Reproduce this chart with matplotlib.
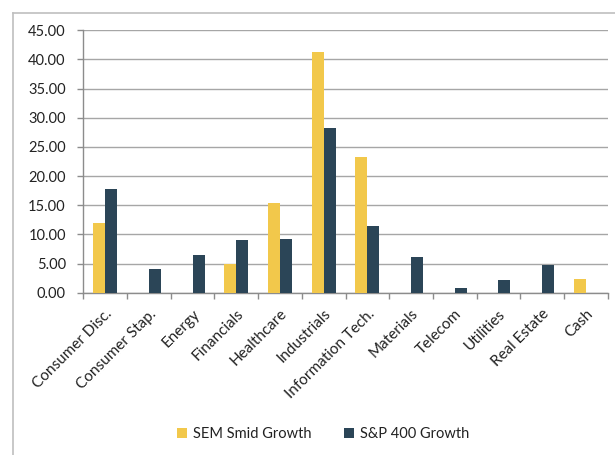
import matplotlib
matplotlib.use("Agg")
import matplotlib.pyplot as plt
import numpy as np
from matplotlib.lines import Line2D

categories = ["Consumer Disc.", "Consumer Stap.", "Energy", "Financials", "Healthcare",
              "Industrials", "Information Tech.", "Materials", "Telecom", "Utilities",
              "Real Estate", "Cash"]
sem_smid = [12.0, 0, 0, 5.0, 15.3, 41.2, 23.3, 0, 0, 0, 0, 2.35]
sp400 = [17.7, 4.0, 6.4, 9.0, 9.2, 28.2, 11.4, 6.1, 0.85, 2.1, 4.7, 0]
series_names = ["SEM Smid Growth", "S&P 400 Growth"]
yticks = [0, 5, 10, 15, 20, 25, 30, 35, 40, 45]

plt.rcParams['font.family'] = ['Lato', 'DejaVu Sans']

W, H = 615, 455
fig = plt.figure(figsize=(W / 100, H / 100), dpi=100)
ax = fig.add_axes([83.3 / W, 1 - 292.7 / H, (607.7 - 83.3) / W, (292.7 - 30.3) / H])

x = np.arange(len(categories))
bw = 0.275
yellow = "#F2C84B"
navy = "#2B4557"
ax.bar(x - bw / 2, sem_smid, bw, color=yellow, label=series_names[0], zorder=3)
ax.bar(x + bw / 2, sp400, bw, color=navy, label=series_names[1], zorder=3)

ax.set_xlim(-0.5, len(categories) - 0.5)
ax.set_ylim(0, 45)
ax.set_yticks(yticks)
ax.set_yticklabels([f"{v:.2f}" for v in yticks], fontsize=10.5, color="#222222")
ax.yaxis.grid(True, color="#A6A6A6", linewidth=1.0, zorder=0)
ax.tick_params(axis='y', length=4.3, width=1, color="#8C8C8C", pad=8.3)

ax.set_xticks(x)
ax.set_xticklabels(categories, rotation=45, ha='right', rotation_mode='anchor',
                   fontsize=11, color="#222222")
ax.set_xticks(np.arange(-0.5, len(categories)), minor=True)
ax.tick_params(axis='x', which='major', length=0, pad=10)
ax.tick_params(axis='x', which='minor', length=4.3, width=1, color="#8C8C8C")

for s in ["top", "right"]:
    ax.spines[s].set_visible(False)
for s in ["left", "bottom"]:
    ax.spines[s].set_color("#8C8C8C")
    ax.spines[s].set_linewidth(1.0)

leg = fig.legend(loc='center', bbox_to_anchor=(323 / W, 1 - 434 / H), ncol=2, frameon=False,
                 fontsize=10.5, handlelength=0.7, handleheight=0.7, handletextpad=0.4,
                 columnspacing=2.2)
for t in leg.get_texts():
    t.set_color("#222222")

# outer chart border (top and left visible)
fig.add_artist(Line2D([12.5 / W, 1.0], [1 - 13 / H, 1 - 13 / H], color="#BFBFBF", lw=1.2,
                      transform=fig.transFigure))
fig.add_artist(Line2D([12.5 / W, 12.5 / W], [1 - 13 / H, 0.0], color="#BFBFBF", lw=1.2,
                      transform=fig.transFigure))

fig.savefig("out.png", dpi=100)
